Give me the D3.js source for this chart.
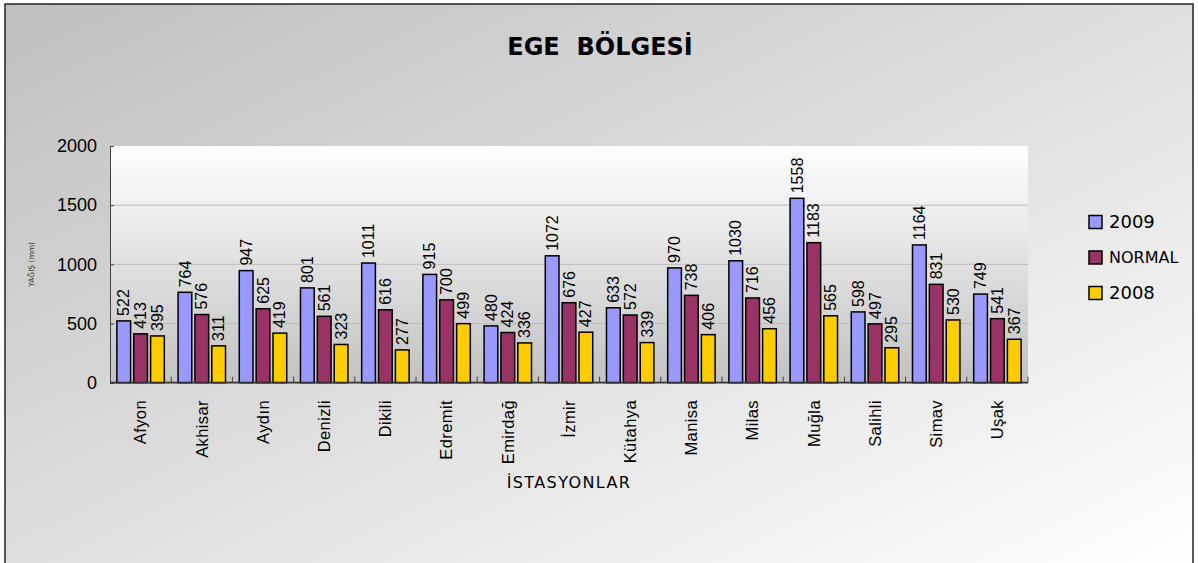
<!DOCTYPE html>
<html>
<head>
<meta charset="utf-8">
<script src="https://cdn.jsdelivr.net/npm/d3@7"></script>
<style>
  html, body { margin: 0; padding: 0; background: #fff; }
  svg { display: block; }
</style>
</head>
<body>
<svg id="chart" width="1198" height="563"></svg>
<script>
// Yağış verileri (mm) - Ege Bölgesi istasyonları
const stations = ["Afyon","Akhisar","Aydın","Denizli","Dikili","Edremit","Emirdağ","İzmir","Kütahya","Manisa","Milas","Muğla","Salihli","Simav","Uşak"];
const rain2009   = [522, 764, 947, 801, 1011, 915, 480, 1072, 633, 970, 1030, 1558, 598, 1164, 749];
const rainNormal = [413, 576, 625, 561, 616, 700, 424, 676, 572, 738, 716, 1183, 497, 831, 541];
const rain2008   = [395, 311, 419, 323, 277, 499, 336, 427, 339, 406, 456, 565, 295, 530, 367];
const seriesNames = ["2009", "NORMAL", "2008"];
const seriesColors = ["#9999FF", "#993366", "#FFCC00"];
const yTicks = [0, 500, 1000, 1500, 2000];

const seriesValues = [rain2009, rainNormal, rain2008];

const svg = d3.select("#chart");
const plot = { left: 110, top: 146, right: 1028, bottom: 382.7 };

const defs = svg.append("defs");
const bgGrad = defs.append("linearGradient").attr("id", "bgGrad")
  .attr("x1", 0).attr("y1", 0).attr("x2", 1).attr("y2", 1);
bgGrad.append("stop").attr("offset", "0%").attr("stop-color", "#bfbfbf");
bgGrad.append("stop").attr("offset", "100%").attr("stop-color", "#ffffff");

const plotGrad = defs.append("linearGradient").attr("id", "plotGrad")
  .attr("x1", 0).attr("y1", 0).attr("x2", 0).attr("y2", 1);
plotGrad.append("stop").attr("offset", "0%").attr("stop-color", "#ffffff");
plotGrad.append("stop").attr("offset", "100%").attr("stop-color", "#c2c2c2");

// Chart frame
svg.append("rect")
  .attr("x", 5).attr("y", 4)
  .attr("width", 1188).attr("height", 570)
  .attr("fill", "url(#bgGrad)")
  .attr("stroke", "#222").attr("stroke-width", 1.5);

// Title
svg.append("text")
  .attr("x", 600).attr("y", 55)
  .attr("text-anchor", "middle")
  .style("white-space", "pre")
  .attr("font-family", "'Comic Sans MS', 'DejaVu Sans', sans-serif")
  .attr("font-weight", "bold")
  .attr("font-size", 24)
  .attr("fill", "#000")
  .text("EGE  BÖLGESİ");

// Scales
const x0 = d3.scaleBand()
  .domain(stations)
  .range([plot.left, plot.right])
  .paddingInner(0.225)
  .paddingOuter(0.1125);

const x1 = d3.scaleBand()
  .domain(seriesNames)
  .range([0, x0.bandwidth()])
  .paddingInner(0.187)
  .paddingOuter(0);

const y = d3.scaleLinear()
  .domain([0, 2000])
  .range([plot.bottom, plot.top]);

// Plot area
svg.append("rect")
  .attr("x", plot.left).attr("y", plot.top)
  .attr("width", plot.right - plot.left)
  .attr("height", plot.bottom - plot.top)
  .attr("fill", "url(#plotGrad)");

// Gridlines
svg.append("g")
  .selectAll("line")
  .data(yTicks.filter(t => t > 0 && t < 2000))
  .join("line")
  .attr("x1", plot.left).attr("x2", plot.right)
  .attr("y1", d => y(d)).attr("y2", d => y(d))
  .attr("stroke", "#bdbdbd").attr("stroke-width", 1);

// Y axis
const yAxis = svg.append("g")
  .attr("transform", `translate(${plot.left},0)`)
  .call(d3.axisRight(y).tickValues(yTicks).tickSize(4).tickFormat(() => ""));
yAxis.select(".domain").attr("stroke", "#444");
yAxis.selectAll(".tick line").attr("stroke", "#444");

svg.append("g")
  .selectAll("text")
  .data(yTicks)
  .join("text")
  .attr("x", 97).attr("y", d => y(d))
  .attr("dy", "0.35em")
  .attr("text-anchor", "end")
  .attr("font-family", "'Liberation Sans', Arial, sans-serif")
  .attr("font-size", 18)
  .attr("fill", "#000")
  .text(d => d);

// Y axis title
svg.append("text")
  .attr("transform", `translate(34,${(plot.top + plot.bottom) / 2}) rotate(-90)`)
  .attr("text-anchor", "middle")
  .attr("font-family", "'Comic Sans MS', 'DejaVu Sans', sans-serif")
  .attr("font-size", 7.5)
  .attr("fill", "#333")
  .text("YAĞIŞ (mm)");

// Bars
const groups = svg.append("g")
  .selectAll("g")
  .data(stations)
  .join("g")
  .attr("transform", d => `translate(${x0(d)},0)`);

groups.selectAll("rect")
  .data((d, i) => seriesNames.map((s, k) => ({ s, k, v: seriesValues[k][i] })))
  .join("rect")
  .attr("x", d => x1(d.s))
  .attr("y", d => y(d.v))
  .attr("width", x1.bandwidth())
  .attr("height", d => y(0) - y(d.v))
  .attr("fill", d => seriesColors[d.k])
  .attr("stroke", "#000")
  .attr("stroke-width", 1.5);

// Value labels
groups.selectAll("text")
  .data((d, i) => seriesNames.map((s, k) => ({ s, k, v: seriesValues[k][i] })))
  .join("text")
  .attr("transform", d => `translate(${x1(d.s) + x1.bandwidth() / 2},${y(d.v) - 5}) rotate(-90)`)
  .attr("dy", "0.35em")
  .attr("text-anchor", "start")
  .attr("font-family", "'Liberation Sans', Arial, sans-serif")
  .attr("font-size", 16)
  .attr("fill", "#000")
  .text(d => d.v);

// X axis line and category separators
const step = x0.step();
const boundaries = d3.range(1, stations.length + 1).map(i => plot.left + i * step);
svg.append("g")
  .selectAll("line")
  .data(boundaries)
  .join("line")
  .attr("x1", d => d).attr("x2", d => d)
  .attr("y1", plot.bottom - 6).attr("y2", plot.bottom)
  .attr("stroke", "#444").attr("stroke-width", 1);

svg.append("line")
  .attr("x1", plot.left).attr("x2", plot.right)
  .attr("y1", plot.bottom).attr("y2", plot.bottom)
  .attr("stroke", "#333").attr("stroke-width", 1.8);

// Station labels
svg.append("g")
  .selectAll("text")
  .data(stations)
  .join("text")
  .attr("transform", d => `translate(${x0(d) + x0.bandwidth() / 2},400) rotate(-90)`)
  .attr("dy", "0.35em")
  .attr("text-anchor", "end")
  .attr("font-family", "'Liberation Sans', Arial, sans-serif")
  .attr("font-size", 16.5)
  .attr("letter-spacing", 0.4)
  .attr("fill", "#000")
  .text(d => d);

// X axis title
svg.append("text")
  .attr("x", (plot.left + plot.right) / 2).attr("y", 488)
  .attr("text-anchor", "middle")
  .attr("font-family", "'DejaVu Sans', sans-serif")
  .attr("font-size", 16)
  .attr("letter-spacing", 1.4)
  .attr("fill", "#000")
  .text("İSTASYONLAR");

// Legend
const legend = svg.append("g")
  .selectAll("g")
  .data(seriesNames)
  .join("g")
  .attr("transform", (d, i) => `translate(1089,${222 + i * 35.5})`);

legend.append("rect")
  .attr("x", 0).attr("y", -6.5)
  .attr("width", 13).attr("height", 13)
  .attr("fill", (d, i) => seriesColors[i])
  .attr("stroke", "#000").attr("stroke-width", 1.5);

legend.append("text")
  .attr("x", 20).attr("y", 0)
  .attr("dy", "0.36em")
  .attr("font-family", "'DejaVu Sans', Verdana, sans-serif")
  .attr("font-size", d => d === "NORMAL" ? 16 : 18)
  .attr("fill", "#000")
  .text(d => d);
</script>
</body>
</html>
